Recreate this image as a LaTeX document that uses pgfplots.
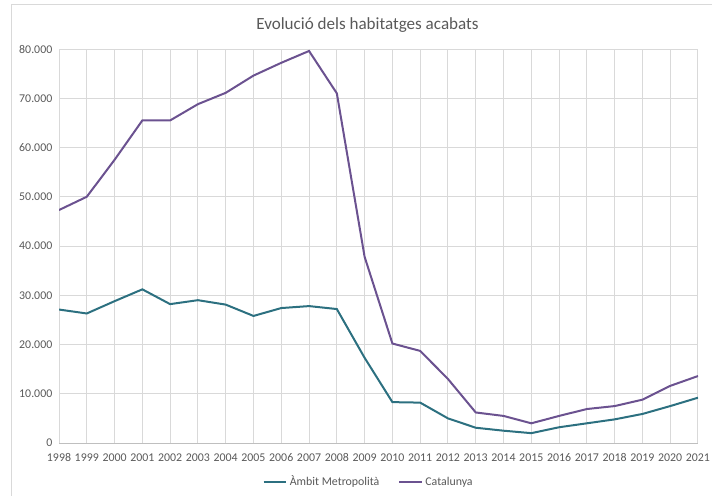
\documentclass[border=0pt]{standalone}
\usepackage{fontspec}
\setmainfont{Carlito}
\usepackage{pgfplots}
\pgfplotsset{compat=1.18}
\definecolor{teal1}{HTML}{2C7080}
\definecolor{purp1}{HTML}{6B5290}
\definecolor{txtgray}{HTML}{595959}
\definecolor{gridgray}{HTML}{D9D9D9}
\definecolor{axgray}{HTML}{BFBFBF}
\begin{document}
\begin{tikzpicture}
\useasboundingbox (0pt,0pt) rectangle (534pt,-371.25pt);
\draw[gridgray, line width=0.75pt] (8.25pt,-380pt) -- (8.25pt,-3.25pt) -- (540pt,-3.25pt);
\node[txtgray, font=\fontsize{12.8}{15}\selectfont] at (275.6pt,-18.75pt) {Evolució dels habitatges acabats};
\begin{axis}[
  at={(44.25pt,-332.25pt)}, anchor=south west,
  scale only axis, width=479.25pt, height=295.5pt,
  xmin=1998, xmax=2021, ymin=0, ymax=80000,
  xtick={1998,...,2021}, ytick={0,10000,...,80000},
  /pgf/number format/assume math mode=true,
  xticklabel style={/pgf/number format/set thousands separator={}, font=\fontsize{8.9}{10}\selectfont, text=txtgray, yshift=-4.5pt},
  yticklabel style={/pgf/number format/.cd, 1000 sep={.}, fixed, precision=0, /tikz/.cd, font=\fontsize{8.9}{10}\selectfont, text=txtgray, xshift=-1.5pt},
  scaled y ticks=false,
  major tick length=0pt,
  grid=major, major grid style={gridgray, line width=0.75pt},
  axis x line*=bottom, axis y line*=left,
  x axis line style={axgray, line width=0.75pt, -},
  y axis line style={draw=none},
  legend columns=2,
  legend style={draw=none, at={(0.485,-0.099)}, anchor=center, font=\fontsize{8.9}{10}\selectfont, text=txtgray, /tikz/every even column/.append style={column sep=12pt}},
  legend image code/.code={\draw[#1] (0pt,0pt) -- (17pt,0pt);},
]
\addplot[teal1, line width=1.5pt] coordinates {
(1998,27100) (1999,26300) (2000,28800) (2001,31200) (2002,28200) (2003,29000) (2004,28100) (2005,25800) (2006,27400) (2007,27800) (2008,27200) (2009,17300) (2010,8300) (2011,8200) (2012,5000) (2013,3100) (2014,2500) (2015,2000) (2016,3200) (2017,4000) (2018,4800) (2019,5900) (2020,7500) (2021,9200)};
\addlegendentry{Àmbit Metropolità}
\addplot[purp1, line width=1.5pt] coordinates {
(1998,47300) (1999,50000) (2000,57500) (2001,65500) (2002,65500) (2003,68800) (2004,71100) (2005,74600) (2006,77200) (2007,79600) (2008,71000) (2009,37800) (2010,20200) (2011,18700) (2012,13000) (2013,6200) (2014,5500) (2015,4000) (2016,5500) (2017,6900) (2018,7500) (2019,8800) (2020,11600) (2021,13600)};
\addlegendentry{Catalunya}
\end{axis}
\end{tikzpicture}
\end{document}
